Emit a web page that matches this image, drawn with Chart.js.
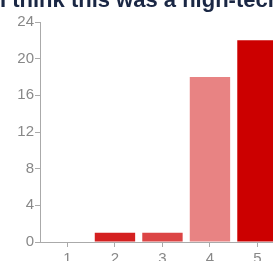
<!DOCTYPE html>
<html>
<head>
<meta charset="utf-8">
<script src="https://cdn.jsdelivr.net/npm/chart.js@4"></script>
<style>
  html, body { margin: 0; padding: 0; overflow: hidden; background: #fff; width: 273px; height: 261px; }
  #wrap { position: absolute; left: 0; top: -16px; width: 300px; height: 290px; }
</style>
</head>
<body>
<div id="wrap"><canvas id="c" width="300" height="290"></canvas></div>
<script>
const titleText = "I think this was a high-tech";
const categories = ["1", "2", "3", "4", "5"];
const values = [0, 1, 1, 18, 22];
const barColors = ["#d42020", "#d42020", "#dc4545", "#e88383", "#cc0000"];
const yTicks = [0, 4, 8, 12, 16, 20, 24];

const points = categories.map((c, i) => ({ x: Number(c), y: values[i] }));

new Chart(document.getElementById("c"), {
  type: "bar",
  data: {
    datasets: [{
      data: points,
      backgroundColor: barColors,
      borderWidth: 0,
      barPercentage: 0.85,
      categoryPercentage: 1.0
    }]
  },
  options: {
    responsive: false,
    animation: false,
    devicePixelRatio: 1,
    layout: { padding: { left: 0, right: 10, top: 0, bottom: 0 } },
    plugins: {
      legend: { display: false },
      tooltip: { enabled: false },
      title: {
        display: true,
        text: titleText,
        align: "start",
        color: "#1a2744",
        font: { family: "Liberation Sans, Arial, sans-serif", size: 22, weight: "bold" },
        padding: { top: 3.4, bottom: 8.2 }
      }
    },
    scales: {
      x: {
        type: "linear",
        offset: false,
        min: 0.422,
        max: 5.685,
        afterBuildTicks: (s) => { s.ticks = categories.map(c => ({ value: Number(c) })); },
        afterFit: (s) => { s.height = 32; },
        ticks: {
          callback: (v) => String(v),
          color: "#888",
          font: { family: "Liberation Sans, Arial, sans-serif", size: 15 },
          padding: 3,
          autoSkip: false,
          maxRotation: 0
        },
        grid: { display: true, offset: false, drawOnChartArea: false, drawTicks: true, tickLength: 5, color: "#aaa" },
        border: { display: true, color: "#aaa" }
      },
      y: {
        min: 0,
        max: 24,
        afterBuildTicks: (s) => { s.ticks = yTicks.map(v => ({ value: v })); },
        afterFit: (s) => { s.width = 40; },
        ticks: {
          color: "#888",
          font: { family: "Liberation Sans, Arial, sans-serif", size: 15 },
          padding: 1
        },
        grid: { display: true, drawOnChartArea: false, drawTicks: true, tickLength: 5, color: "#aaa" },
        border: { display: true, color: "#aaa" }
      }
    }
  }
});
</script>
</body>
</html>
